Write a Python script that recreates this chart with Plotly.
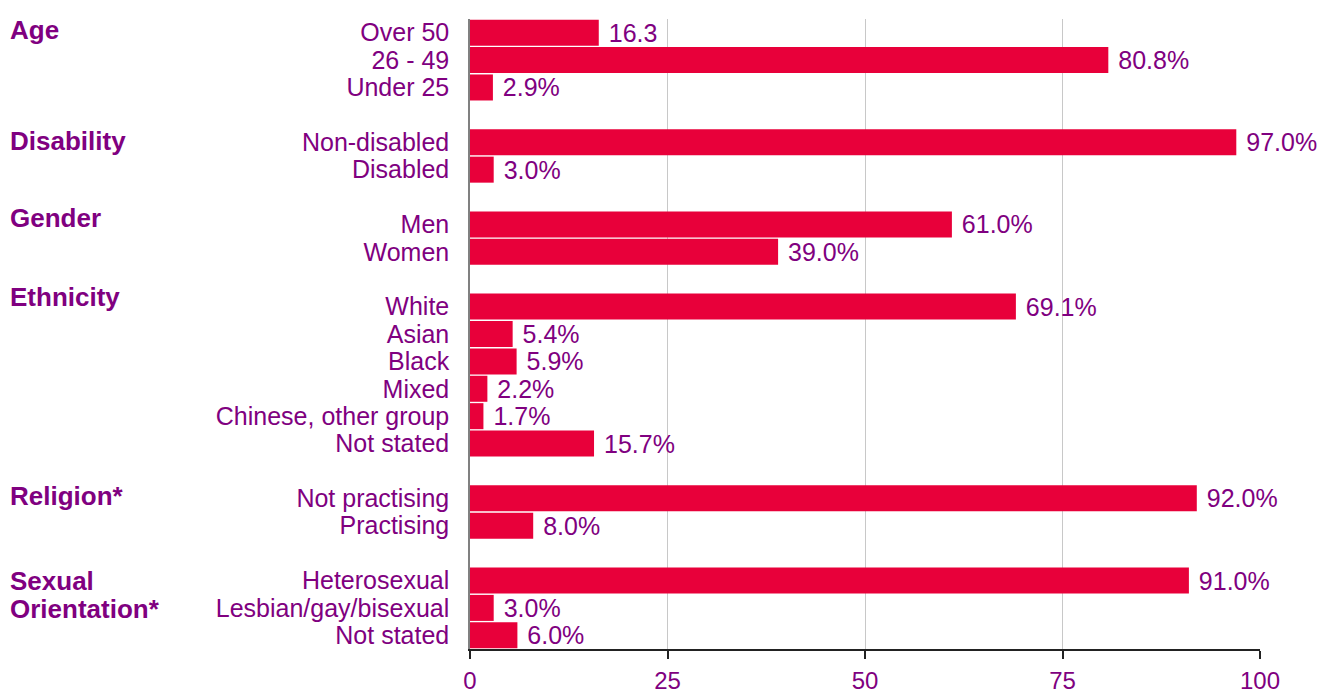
import plotly.graph_objects as go

# ---- data ----
groups = ["Age", "Disability", "Gender", "Ethnicity", "Religion*", "Sexual", "Orientation*"]
age_cats = ["Over 50", "26 - 49", "Under 25"]
age_vals = [16.3, 80.8, 2.9]
age_lbls = ["16.3", "80.8%", "2.9%"]
dis_cats = ["Non-disabled", "Disabled"]
dis_vals = [97.0, 3.0]
dis_lbls = ["97.0%", "3.0%"]
gen_cats = ["Men", "Women"]
gen_vals = [61.0, 39.0]
gen_lbls = ["61.0%", "39.0%"]
eth_cats = ["White", "Asian", "Black", "Mixed", "Chinese, other group", "Not stated"]
eth_vals = [69.1, 5.4, 5.9, 2.2, 1.7, 15.7]
eth_lbls = ["69.1%", "5.4%", "5.9%", "2.2%", "1.7%", "15.7%"]
rel_cats = ["Not practising", "Practising"]
rel_vals = [92.0, 8.0]
rel_lbls = ["92.0%", "8.0%"]
sex_cats = ["Heterosexual", "Lesbian/gay/bisexual", "Not stated"]
sex_vals = [91.0, 3.0, 6.0]
sex_lbls = ["91.0%", "3.0%", "6.0%"]
x_ticks = [0, 25, 50, 75, 100]

RED = "#E8003A"
PURPLE = "#800080"
FONT = "Liberation Sans, Arial, sans-serif"

blocks = [(age_cats, age_vals, age_lbls), (dis_cats, dis_vals, dis_lbls),
          (gen_cats, gen_vals, gen_lbls), (eth_cats, eth_vals, eth_lbls),
          (rel_cats, rel_vals, rel_lbls), (sex_cats, sex_vals, sex_lbls)]

ypos, cats, vals, lbls, group_rows = [], [], [], [], []
row = 0
for c, v, l in blocks:
    group_rows.append(row)
    for ci, vi, li in zip(c, v, l):
        ypos.append(row); cats.append(ci); vals.append(vi); lbls.append(" " + li)
        row += 1
    row += 1
last_row = ypos[-1]

fig = go.Figure(go.Bar(
    x=vals, y=ypos, orientation="h", width=0.95,
    marker=dict(color=RED, line=dict(width=0)),
    text=lbls, textposition="outside", cliponaxis=False, constraintext="none",
    textfont=dict(color=PURPLE, size=25, family=FONT),
    hoverinfo="skip",
))

# group label rows: last group label is split over two rows
group_y = group_rows[:-1] + [group_rows[-1], group_rows[-1] + 1]
group_shift = [3, 1, 6, 10, 2, 0, -1]
for g, gy, sh in zip(groups, group_y, group_shift):
    fig.add_annotation(text="<b>" + g + "</b>", xref="paper", yref="y",
                       x=-462 / 790, y=gy, yshift=sh, xanchor="left", yanchor="middle",
                       align="left", showarrow=False,
                       font=dict(color=PURPLE, size=26, family=FONT))

fig.update_layout(
    width=1320, height=697, autosize=False,
    margin=dict(l=470, r=60, t=19, b=48, autoexpand=False),
    plot_bgcolor="white", paper_bgcolor="white",
    showlegend=False,
    font=dict(family=FONT, color=PURPLE, size=25),
    xaxis=dict(range=[0, 100], tickvals=x_ticks, showgrid=True, gridcolor="#C8C8C8",
               gridwidth=1, zeroline=False, showline=True, linecolor="#222222", linewidth=1.5,
               ticks="outside", ticklen=8, tickcolor="#222222", tickwidth=1.5,
               automargin=False, ticklabelstandoff=1,
               tickfont=dict(size=24, color=PURPLE, family=FONT)),
    yaxis=dict(range=[last_row + 0.5, -0.5],
               tickvals=ypos, ticktext=cats, showgrid=False, zeroline=False,
               showline=True, linecolor="#808080", linewidth=1.5, ticks="",
               automargin=False, ticklabelstandoff=14,
               tickfont=dict(size=25, color=PURPLE, family=FONT)),
)

fig.write_html("out.html", config={"displayModeBar": False},
               post_script="document.body.style.margin='0px';document.body.style.overflow='hidden';")
